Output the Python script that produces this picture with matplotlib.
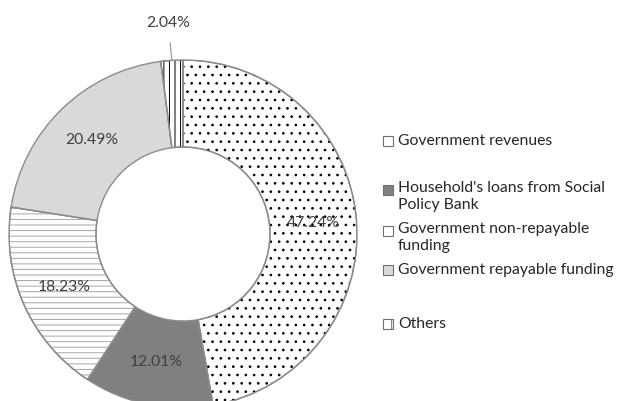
import numpy as np
import matplotlib
matplotlib.use('Agg')
import matplotlib.pyplot as plt
from matplotlib.patches import Wedge, Rectangle

plt.rcParams['font.family'] = ['Lato', 'DejaVu Sans']
plt.rcParams['hatch.linewidth'] = 0.7

labels = ["Government revenues",
          "Household's loans from Social\nPolicy Bank",
          "Government non-repayable\nfunding",
          "Government repayable funding",
          "Others"]
shares = [47.24, 12.01, 18.23, 20.49, 2.04]
pct_text = ["47.24%", "12.01%", "18.23%", "20.49%", "2.04%"]

faces = ['white', '#808080', 'white', '#d9d9d9', 'white']
hatches = ['..', None, '---', None, '|||']
hatch_cols = ['#000000', None, '#a6a6a6', None, '#000000']
leg_hatch = [None, None, None, None, '|']
edge = '#8c8c8c'
txt_col = '#404040'
fs = 11.3

fig = plt.figure(figsize=(6.19, 4.01), dpi=100)
ax = fig.add_axes([9 / 619, -7 / 401, 348 / 619, 348 / 401])

wedges, _ = ax.pie(shares, startangle=90, counterclock=False, colors=faces,
                   radius=1.0, wedgeprops=dict(width=0.5, edgecolor=edge, linewidth=1.0))

# hatch overlays (separate colour from the outline)
for w, h, hc in zip(wedges, hatches, hatch_cols):
    if h is None:
        continue
    ax.add_patch(Wedge(w.center, w.r, w.theta1, w.theta2, width=w.width,
                       facecolor='none', edgecolor=hc, linewidth=0, hatch=h))
    ax.add_patch(Wedge(w.center, w.r, w.theta1, w.theta2, width=w.width,
                       facecolor='none', edgecolor=edge, linewidth=1.0))

for i, w in enumerate(wedges):
    mid = np.deg2rad((w.theta1 + w.theta2) / 2)
    if i == len(wedges) - 1:
        x0, y0 = np.cos(mid), np.sin(mid)
        ax.annotate(pct_text[i], xy=(x0, y0), xytext=(x0 - 0.02, 1.21),
                    ha='center', va='center', fontsize=fs, color=txt_col,
                    arrowprops=dict(arrowstyle='-', color='#a6a6a6', lw=1,
                                    shrinkA=7, shrinkB=0))
    else:
        ax.text(np.cos(mid) * 0.75, np.sin(mid) * 0.75, pct_text[i],
                ha='center', va='center', fontsize=fs, color=txt_col)

ax.set_xlim(-1, 1)
ax.set_ylim(-1, 1)
ax.axis('off')

# legend, laid out like the original
leg_y = [141, 190, 231, 270, 324]
for lab, fc, h, y in zip(labels, faces, leg_hatch, leg_y):
    ys = 1 - y / 401
    fig.add_artist(Rectangle((383 / 619, ys - 5 / 401), 10 / 619, 10 / 401,
                             transform=fig.transFigure, facecolor=fc,
                             edgecolor='#6f6f6f', linewidth=0.8, hatch=h))
    if '\n' in lab:
        fig.text(398 / 619, ys + 9 / 401, lab, ha='left', va='top',
                 fontsize=fs, color='#262626', linespacing=1.3)
    else:
        fig.text(398 / 619, ys, lab, ha='left', va='center',
                 fontsize=fs, color='#262626')

fig.savefig('out.png', dpi=100)
